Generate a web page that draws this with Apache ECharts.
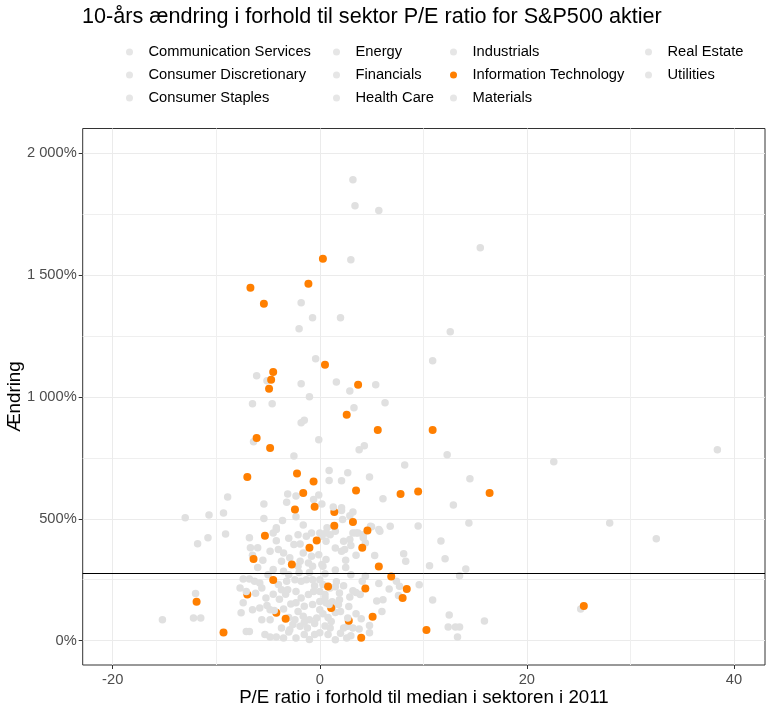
<!DOCTYPE html>
<html>
<head>
<meta charset="utf-8">
<script src="https://cdn.jsdelivr.net/npm/echarts@6/dist/echarts.min.js"></script>
<style>html,body{margin:0;padding:0;background:#fff;}#chart{width:769px;height:712px;}</style>
</head>
<body>
<div id="chart"></div>
<script>
const sectors = ["Communication Services","Consumer Discretionary","Consumer Staples","Energy","Financials","Health Care","Industrials","Information Technology","Materials","Real Estate","Utilities"];
const highlightSector = "Information Technology";

// Information Technology: [P/E relative to sector median 2011, 10-year change %]
const itPoints = [
 [0.3,1567],[-6.7,1448],[-1.1,1465],[-5.4,1383],[0.5,1132],[-4.5,1103],[-4.7,1071],[-4.9,1034],[3.7,1050],
 [2.6,927],[5.6,865],[10.9,865],[-6.1,832],[-4.8,791],[-7.0,672],[-2.2,686],[-0.6,653],[-1.6,606],[3.5,616],
 [7.8,602],[9.5,612],[16.4,606],[-2.4,538],[-0.5,550],[1.4,528],[1.4,472],[3.2,487],[-5.3,431],[-0.3,411],
 [-1.0,381],[4.6,452],[4.1,381],[-6.4,335],[-2.7,312],[5.7,304],[6.9,263],[-4.5,249],[0.8,222],[4.4,214],
 [8.4,212],[8.0,175],[-11.9,160],[-7.0,189],[-4.2,114],[-3.3,90],[1.1,134],[2.8,82],[5.1,98],[-9.3,33],
 [4.0,12],[25.5,142],[10.3,44]
];

// All other sectors (drawn in grey)
const otherPoints = [
 [3.2,1892],[3.4,1785],[5.7,1765],[3.0,1563],[15.5,1613],[-1.8,1387],[-0.7,1325],[2.0,1325],[-2.0,1280],[12.6,1268],
 [-0.4,1157],[10.9,1149],[-6.1,1087],[-5.1,1067],[-1.8,1054],[1.6,1062],[2.9,1025],[5.4,1050],[-1.0,1001],[-6.5,972],
 [-4.6,972],[3.3,956],[6.3,976],[-1.8,894],[-1.5,905],[-6.4,816],[-0.1,824],[-2.5,758],[3.8,783],[4.3,800],
 [12.3,763],[22.6,734],[38.4,783],[8.2,721],[0.9,698],[0.9,657],[2.7,689],[2.1,656],[4.8,672],[14.5,664],
 [-8.9,590],[-5.4,561],[-3.1,602],[-2.3,594],[-3.2,568],[-0.1,598],[-0.6,579],[0.2,561],[6.1,582],[12.9,557],
 [-13.0,504],[-10.7,516],[-9.3,524],[-11.8,398],[-10.8,422],[-9.1,438],[-5.4,501],[-3.6,493],[-2.3,508],[-1.6,475],
 [-4.2,463],[0.7,463],[2.1,545],[2.1,534],[3.2,528],[2.9,513],[2.2,497],[4.9,469],[6.8,469],[5.7,456],
 [9.5,471],[14.4,483],[28.0,483],[32.5,418],[11.7,409],[12.1,336],[10.6,307],[14.1,294],[13.5,266],[9.6,229],
 [10.9,167],[25.2,130],[12.5,105],[15.9,81],[12.4,56],[13.1,56],[13.5,56],[13.3,15],[-12.0,193],[-12.2,93],
 [-11.5,93],[-15.2,86],[-6.8,422],[-4.2,456],[-4.5,442],[-2.1,435],[-1.3,428],[-0.8,442],[0.0,442],[0.6,442],
 [1.0,435],[1.5,449],[-6.7,381],[-6.0,381],[-4.8,367],[-4.0,374],[-1.9,397],[-1.6,360],[-0.8,346],[-0.1,353],
 [0.3,305],[-3.7,326],[-2.9,340],[-1.9,326],[-4.5,292],[-3.5,285],[-2.1,305],[-1.1,319],[-0.7,305],[-7.4,253],
 [-6.8,253],[-6.3,244],[-5.8,237],[-7.7,216],[-5.6,216],[-5.2,175],[-5.1,144],[-4.0,230],[-3.7,209],[-3.1,209],
 [-3.2,244],[-2.4,250],[-1.8,244],[-1.3,250],[-0.7,250],[0.0,250],[-2.3,202],[-1.8,175],[-1.1,189],[-0.6,202],
 [0.0,202],[0.5,189],[-7.4,155],[-6.5,127],[-7.6,114],[-5.8,134],[-4.8,127],[-5.6,86],[-4.8,86],[-3.7,52],
 [-2.9,45],[-2.4,86],[-7.1,38],[-6.8,38],[-5.3,25],[-4.8,15],[-4.2,15],[-3.5,11],[-2.3,11],[-1.5,25],
 [-0.5,25],[0.0,32],[-2.1,120],[-1.6,100],[-1.0,86],[-0.3,93],[0.0,127],[-2.3,155],[-1.5,141],[-0.7,148],
 [0.0,161],[0.6,155],[-2.6,66],[-1.9,59],[-1.2,52],[2.3,408],[2.9,415],[4.2,422],[4.4,401],[3.7,442],
 [4.2,435],[3.2,442],[3.5,442],[5.0,467],[5.8,449],[2.1,367],[2.4,374],[0.6,333],[0.2,312],[5.3,349],
 [8.1,357],[8.3,326],[4.4,264],[4.1,244],[1.6,242],[5.7,234],[7.4,244],[7.7,223],[6.7,212],[7.6,185],
 [3.2,205],[3.5,198],[1.9,196],[1.9,168],[1.8,148],[2.9,179],[3.9,189],[5.5,163],[6.1,168],[6.0,120],
 [4.8,62],[3.2,52],[3.8,48],[2.3,52],[2.7,59],[1.5,4],[2.6,11],[1.1,79],[1.0,52],[0.8,25],
 [4.8,32],[0.6,408],[0.2,428],[0.3,230],[1.0,216],[1.5,221],[0.5,175],[1.2,160],[0.3,110],[1.5,115],
 [0.8,95],[2.0,120],[1.2,135],[-0.5,70],[0.5,60],[-1.5,75],[-3.0,95],[-3.5,130],[-2.8,150],[-3.9,170],
 [-4.5,190],[-2.0,280],[-1.0,280],[0.5,275],[1.5,290],[2.5,300],[3.0,270],[-3.0,270],[-5.0,270],[-6.0,300],
 [-5.5,330],[-6.5,350],[-3.5,360],[-2.5,395],[-4.2,410],[-3.0,420],[2.5,330],[3.5,350],[1.5,380],[3.0,390],
 [-6.2,195],[-3.3,190],[-0.5,225],[2.3,225],[2.8,140],[3.5,110],[4.0,90],[2.0,30],[3.0,20],[-1.0,5],[-3.0,35]
];

// Grey points from sectors drawn after Information Technology (partly covering orange points)
const otherPointsOnTop = [[-7.1,202],[-4.4,124],[1.3,549],[0.9,148],[2.7,93]];

const medianChange = 275;
const xTicks = [-20, 0, 20, 40];
const xMinorTicks = [-10, 10, 30];
const yTicks = [0, 500, 1000, 1500, 2000];
const yMinorTicks = [250, 750, 1250, 1750];

const FONT = "'Liberation Sans', Arial, sans-serif";
const GREY = '#E0E0E0';
const ORANGE = '#FF7F00';

function fmtPct(v) {
  return String(Math.round(v)).replace(/\B(?=(\d{3})+(?!\d))/g, ' ') + '%';
}

const chart = echarts.init(document.getElementById('chart'), null, {renderer: 'canvas'});

const legendCols = [[0,1,2],[3,4,5],[6,7,8],[9,10]];
const legendLefts = [121, 328, 445, 640];
const legends = legendCols.map((idx, i) => ({
  orient: 'vertical',
  left: legendLefts[i],
  top: 39,
  itemWidth: 28,
  itemHeight: 7,
  itemGap: 7,
  icon: 'circle',
  selectedMode: false,
  data: idx.map(k => sectors[k]),
  textStyle: {fontFamily: FONT, fontSize: 14.7, color: '#000', lineHeight: 16}
}));

const sectorSeries = sectors.filter(s => s !== highlightSector).map(s => ({
  name: s, type: 'scatter', data: [], itemStyle: {color: GREY}, symbolSize: 7.5
}));

const option = {
  animation: false,
  backgroundColor: '#fff',
  title: {
    text: '10-års ændring i forhold til sektor P/E ratio for S&P500 aktier',
    left: 77, top: 1,
    textStyle: {fontFamily: FONT, fontSize: 21.6, fontWeight: 'normal', color: '#000'}
  },
  legend: legends,
  grid: {
    left: 82.7, right: 4, top: 128.5, bottom: 47,
    outerBoundsMode: 'none',
    show: true, borderColor: '#333333', borderWidth: 1, backgroundColor: '#fff',
    containLabel: false
  },
  xAxis: [
    {
      type: 'value', min: -22.9, max: 43, position: 'bottom',
      name: 'P/E ratio i forhold til median i sektoren i 2011',
      nameLocation: 'middle', nameGap: 23, nameMoveOverlap: false,
      nameTextStyle: {fontFamily: FONT, fontSize: 18.7, color: '#000'},
      axisLine: {show: false, onZero: false},
      axisTick: {show: true, customValues: xTicks, length: 4, lineStyle: {color: '#333333'}},
      axisLabel: {customValues: xTicks, color: '#4D4D4D', fontFamily: FONT, fontSize: 14.7, margin: 7},
      splitLine: {show: true, lineStyle: {color: '#EBEBEB', width: 1}}
    },
    {
      type: 'value', min: -22.9, max: 43, position: 'top',
      axisLine: {show: false, onZero: false},
      axisTick: {show: false, customValues: xMinorTicks},
      axisLabel: {show: false, customValues: xMinorTicks},
      splitLine: {show: true, lineStyle: {color: '#EFEFEF', width: 1}}
    }
  ],
  yAxis: [
    {
      type: 'value', min: -100, max: 2102, position: 'left',
      name: 'Ændring', nameLocation: 'middle', nameGap: 58, nameRotate: 90, nameMoveOverlap: false,
      nameTextStyle: {fontFamily: FONT, fontSize: 18.7, color: '#000'},
      axisLine: {show: false, onZero: false},
      axisTick: {show: true, customValues: yTicks, length: 4, lineStyle: {color: '#333333'}},
      axisLabel: {customValues: yTicks, color: '#4D4D4D', fontFamily: FONT, fontSize: 14.7, margin: 6, formatter: fmtPct},
      splitLine: {show: true, lineStyle: {color: '#EBEBEB', width: 1}}
    },
    {
      type: 'value', min: -100, max: 2102, position: 'right',
      axisLine: {show: false, onZero: false},
      axisTick: {show: false, customValues: yMinorTicks},
      axisLabel: {show: false, customValues: yMinorTicks},
      splitLine: {show: true, lineStyle: {color: '#EFEFEF', width: 1}}
    }
  ],
  series: [
    {
      name: 'median', type: 'scatter', data: [], z: 1, silent: true,
      markLine: {
        silent: true, symbol: 'none', label: {show: false},
        lineStyle: {color: '#000', width: 1, type: 'solid'},
        emphasis: {disabled: true},
        data: [{yAxis: medianChange}]
      }
    },
    {name: 'Øvrige sektorer', type: 'scatter', data: otherPoints, symbolSize: 7.5, itemStyle: {color: GREY, opacity: 1}, z: 2, silent: true},
    {name: highlightSector, type: 'scatter', data: itPoints, symbolSize: 8, itemStyle: {color: ORANGE, opacity: 1}, z: 3, silent: true},
    {name: 'Øvrige sektorer (efter)', type: 'scatter', data: otherPointsOnTop, symbolSize: 7.5, itemStyle: {color: GREY, opacity: 1}, z: 4, silent: true}
  ].concat(sectorSeries)
};
chart.setOption(option);
</script>
</body>
</html>
